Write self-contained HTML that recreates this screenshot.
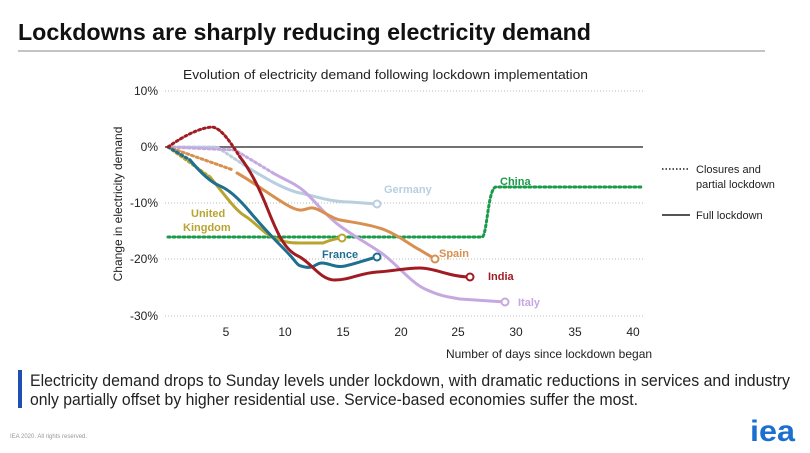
<!DOCTYPE html>
<html><head><meta charset="utf-8"><style>
body{margin:0;width:810px;height:448px;background:#fff;overflow:hidden;font-family:"Liberation Sans",sans-serif;}
</style></head><body>
<svg width="810" height="448" xmlns="http://www.w3.org/2000/svg" font-family="Liberation Sans, sans-serif">
<text x="18" y="40" font-size="23" font-weight="bold" fill="#111" textLength="573" lengthAdjust="spacingAndGlyphs">Lockdowns are sharply reducing electricity demand</text>
<line x1="18" y1="51" x2="765" y2="51" stroke="#888" stroke-width="1"/>
<text x="183" y="79" font-size="13" fill="#222" textLength="405" lengthAdjust="spacingAndGlyphs">Evolution of electricity demand following lockdown implementation</text>
<g stroke="#bbb" stroke-width="1" stroke-dasharray="1,2">
<line x1="165" y1="91" x2="643" y2="91"/><line x1="165" y1="203" x2="643" y2="203"/>
<line x1="165" y1="259" x2="643" y2="259"/><line x1="165" y1="316" x2="643" y2="316"/></g>
<line x1="165" y1="147" x2="643" y2="147" stroke="#444" stroke-width="1.5"/>
<g font-size="12" fill="#222" text-anchor="end">
<text x="158" y="95">10%</text><text x="158" y="151">0%</text><text x="158" y="207">-10%</text><text x="158" y="263">-20%</text><text x="158" y="320">-30%</text></g>
<g font-size="12" fill="#222" text-anchor="middle">
<text x="226" y="336">5</text><text x="285" y="336">10</text><text x="343" y="336">15</text><text x="401" y="336">20</text><text x="458" y="336">25</text><text x="516" y="336">30</text><text x="575" y="336">35</text><text x="633" y="336">40</text></g>
<text x="549" y="358" font-size="12" text-anchor="middle" fill="#222">Number of days since lockdown began</text>
<text transform="translate(122,204) rotate(-90)" font-size="12" text-anchor="middle" fill="#222">Change in electricity demand</text>
<g fill="none" stroke-width="3" stroke-linecap="round" stroke-linejoin="round">
<path d="M168,237 L482,237 C487,237 488,187 496,187 L643,187" stroke="#1a9a4a" stroke-dasharray="2,3"/>
<path d="M168,147 L217,147 L247,167" stroke="#b8cfe0" stroke-dasharray="2,3"/>
<path d="M247,167 C265,178 285,190 300,193 S330,202 350,202 L377,204" stroke="#b8cfe0"/>
<path d="M168,147 L235,150 L273,173" stroke="#c6a8e0" stroke-dasharray="2,3"/>
<path d="M273,173 C285,180 295,183 305,192 S325,215 340,226 S365,242 380,252 S410,282 425,289 S448,297 460,299 L505,302" stroke="#c6a8e0"/>
<path d="M168,147 L233,170" stroke="#d89050" stroke-dasharray="2,3"/>
<path d="M237,173 C250,180 270,195 287,205 S305,207 313,208 S330,218 340,220 S370,224 385,230 S410,245 420,250 L435,259" stroke="#d89050"/>
<path d="M168,147 L210,177" stroke="#b8a430" stroke-dasharray="2,3"/>
<path d="M210,177 C225,195 235,210 245,216 S262,232 272,237 S290,243 300,243 L323,243 S335,238 342,238" stroke="#b8a430"/>
<path d="M168,147 L190,160" stroke="#1f6f90" stroke-dasharray="2,3"/>
<path d="M190,160 C200,172 210,182 220,186 S240,200 250,212 S270,235 285,250 S295,265 305,267 S315,263 322,263 S335,268 345,266 S365,260 377,257" stroke="#1f6f90"/>
<path d="M168,147 C185,135 200,128 212,127 C222,128 232,145 240,157" stroke="#a01c22" stroke-dasharray="2,3"/>
<path d="M240,157 C250,170 258,185 268,210 S285,250 298,256 S320,280 335,280 S360,273 377,272 S405,268 420,268 S450,277 470,277" stroke="#a01c22"/>
</g>
<g fill="#fff" stroke-width="2">
<circle cx="377" cy="204" r="3.5" stroke="#b8cfe0"/><circle cx="505" cy="302" r="3.5" stroke="#c6a8e0"/>
<circle cx="435" cy="259" r="3.5" stroke="#d89050"/><circle cx="342" cy="238" r="3.5" stroke="#b8a430"/>
<circle cx="377" cy="257" r="3.5" stroke="#1f6f90"/><circle cx="470" cy="277" r="3.5" stroke="#a01c22"/></g>
<g font-size="11" font-weight="bold">
<text x="384" y="193" fill="#b8cfe0">Germany</text>
<text x="500" y="185" fill="#1a9a4a">China</text>
<text x="191" y="217" fill="#b8a430">United</text><text x="183" y="231" fill="#b8a430">Kingdom</text>
<text x="322" y="258" fill="#1f6f90">France</text>
<text x="439" y="257" fill="#d89050">Spain</text>
<text x="488" y="280" fill="#a01c22">India</text>
<text x="518" y="306" fill="#c6a8e0">Italy</text></g>
<line x1="662" y1="169" x2="690" y2="169" stroke="#555" stroke-width="2" stroke-dasharray="1.5,2"/>
<text x="696" y="173" font-size="11" fill="#222">Closures and</text>
<text x="696" y="188" font-size="11" fill="#222">partial lockdown</text>
<line x1="662" y1="215" x2="690" y2="215" stroke="#555" stroke-width="2"/>
<text x="696" y="219" font-size="11" fill="#222">Full lockdown</text>
<rect x="18" y="370" width="4" height="38" fill="#1f4fb0"/>
<text x="30" y="386" font-size="17" fill="#222" textLength="760" lengthAdjust="spacingAndGlyphs">Electricity demand drops to Sunday levels under lockdown, with dramatic reductions in services and industry</text>
<text x="30" y="405" font-size="17" fill="#222" textLength="608" lengthAdjust="spacingAndGlyphs">only partially offset by higher residential use. Service-based economies suffer the most.</text>
<text x="10" y="438" font-size="6" fill="#999">IEA 2020. All rights reserved.</text>
<text x="795" y="441" font-size="30" font-weight="bold" fill="#1a6fd0" text-anchor="end" textLength="45" lengthAdjust="spacingAndGlyphs">iea</text>
</svg>
</body></html>
